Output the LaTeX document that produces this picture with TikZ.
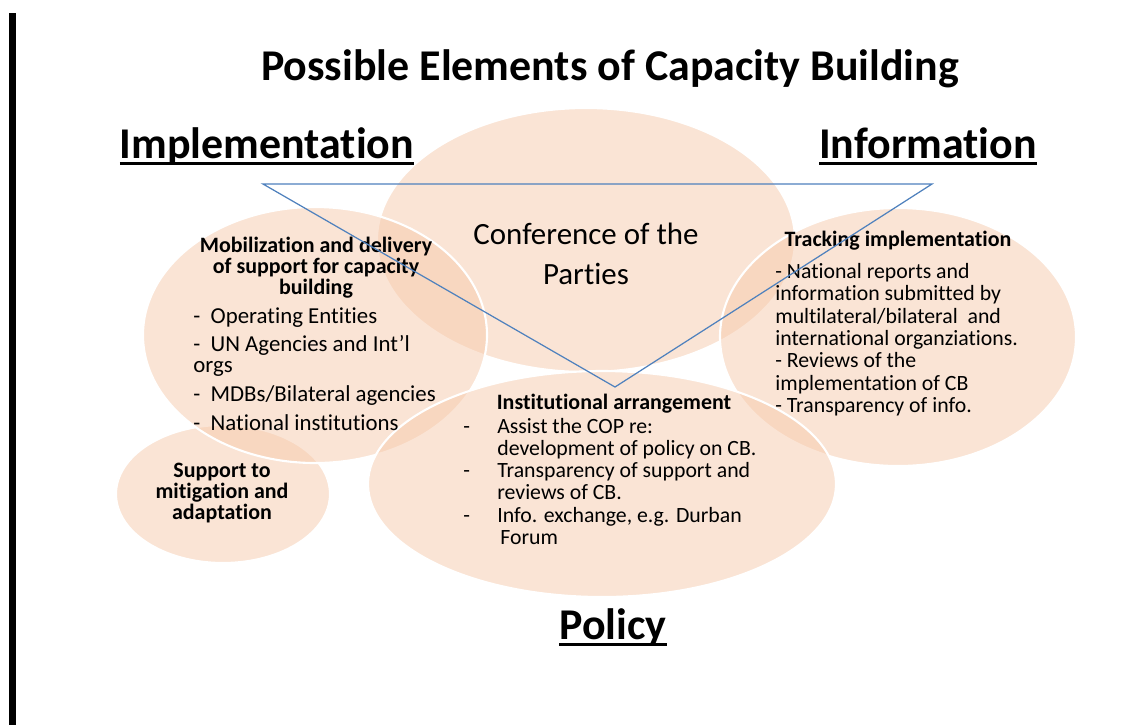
\documentclass[tikz,border=0pt]{standalone}
\usepackage{fontspec}
\setmainfont{Carlito}[Ligatures=NoCommon]
\newcommand{\thickul}[1]{\setbox0\hbox{#1}\leavevmode\rlap{\rule[-3.8pt]{\wd0}{1.7pt}}\box0}
\definecolor{peach}{RGB}{247,203,173}
\definecolor{lineblue}{RGB}{79,129,189}

\begin{document}
\begin{tikzpicture}
    [ x=0.02cm, y=-0.02cm,
      bubble/.style={fill=peach, fill opacity=0.5, draw=white, draw opacity=1, line width=1.2pt},
      title/.style={font=\fontsize{25}{30}\selectfont\bfseries},
      heading/.style={font=\fontsize{25}{30}\selectfont\bfseries, anchor=base},
      subhead/.style={font=\fontsize{12.5}{12}\selectfont\bfseries, align=center, inner sep=0pt},
      body/.style={font=\fontsize{12.4}{12.7}\selectfont, align=left, inner sep=0pt, anchor=north west},
      tri/.style={draw=lineblue, line width=0.7pt} ]

    \fill[white] (0,0) rectangle (1139,725);
    \useasboundingbox (0,0) rectangle (1139,725);
    \fill (9,13) rectangle (16,725);

    \path[bubble] (586,240) ellipse [x radius=209, y radius=132];
    \path[bubble] (223,494) ellipse [x radius=107, y radius=69];
    \path[bubble] (315,335) ellipse [x radius=172, y radius=128];
    \path[bubble] (898,337) ellipse [x radius=178, y radius=129];
    \path[bubble] (602,484) ellipse [x radius=234, y radius=113];

    \node[title] (title) at (610,69) {Possible Elements of Capacity Building};
    \node[heading] (impl) at (267,158) {\thickul{Implementation}};
    \node[heading] (info) at (928,158) {\thickul{Information}};
    \node[heading] (pol) at (613,639) {\thickul{Policy}};

    \node[align=center, font=\fontsize{17.6}{22.7}\selectfont] (cop) at (586,254) {Conference of the\\Parties};

    \node[subhead] (mobhead) at (316,268) {Mobilization and delivery\\of support for capacity\\building};
    \node[body, font=\fontsize{13}{12}\selectfont] (mobitems) at (193,307) {-\ \ Operating Entities\\[4.3pt]
        -\ \ UN Agencies and Int'l\\orgs\\[4.3pt]
        -\ \ MDBs/Bilateral agencies\\[4.3pt]
        -\ \ National institutions};

    \node[subhead] (trackhead) at (898,241) {Tracking implementation};
    \node[body] (trackitems) at (775,263) {- National reports and\\
        information submitted by\\
        multilateral/bilateral\ \ and\\
        international organziations.\\
        - Reviews of the\\
        implementation of CB\\
        - Transparency of info.};

    \node[subhead] (insthead) at (614,404) {Institutional arrangement};
    \node[body, font=\fontsize{12.4}{12.6}\selectfont] (institems) at (463,418) {\makebox[0.68cm][l]{-}Assist the COP re:\\
        \hspace*{0.68cm}development of policy on CB.\\
        \makebox[0.68cm][l]{-}Transparency of support and\\
        \hspace*{0.68cm}reviews of CB.\\
        \makebox[0.68cm][l]{-}Info. exchange, e.g. Durban\\
        \hspace*{0.74cm}Forum};

    \node[subhead] (supp) at (222,493) {Support to\\mitigation and\\adaptation};

    \coordinate (tl) at (263,184);
    \coordinate (tr) at (932,184);
    \coordinate (tb) at (615,387);
    \draw[tri] (tl) -- (tr) -- (tb) -- cycle;

\end{tikzpicture}
\end{document}
